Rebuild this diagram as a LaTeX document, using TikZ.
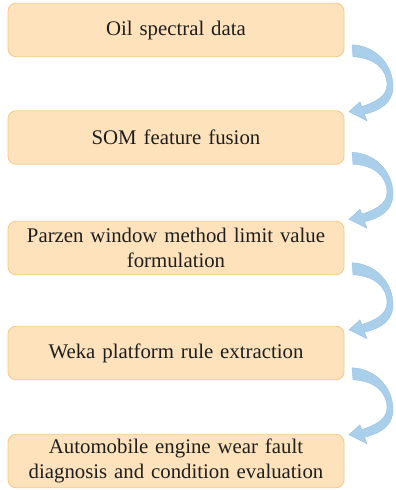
\documentclass[tikz,border=0pt]{standalone}
\usepackage{fontspec}
\setmainfont{Liberation Serif}
\usetikzlibrary{calc}
\definecolor{boxfill}{RGB}{253,226,187}
\definecolor{boxline}{RGB}{248,203,140}
\definecolor{arrowfill}{RGB}{170,207,235}
\definecolor{arrowline}{RGB}{150,192,228}
\definecolor{textcol}{RGB}{30,30,30}
\tikzset{
  stepbox/.style={draw=boxline, fill=boxfill, line width=0.9pt,
    rounded corners=8pt, minimum width=336pt, minimum height=53.5pt,
    align=center, text width=330pt, inner sep=0pt, outer sep=0pt,
    text=textcol, font=\fontsize{20.8}{25}\selectfont},
  % curved block arrow, local origin at the upper corner of its tail
  bendarrow/.pic={
    \filldraw[fill=arrowfill, draw=arrowline, line width=0.4pt]
      (0,0) .. controls (24,1) and (41,20) .. (41,42)
      .. controls (41,58) and (28,66) .. (12.5,69.4)
      -- (15,76) -- (-3,67) -- (8,57) -- (9.75,61.75)
      .. controls (22,58) and (35,52) .. (35,40)
      .. controls (35,24) and (22,13) .. (1,12) -- cycle;
  }
}
\begin{document}
\begin{tikzpicture}[x=1pt, y=-1pt]
  \useasboundingbox (0,0) rectangle (396,490);
  \node[stepbox] (b1) at (176,30)    {Oil spectral data};
  \node[stepbox] (b2) at (176,137.5) {SOM feature fusion};
  \node[stepbox] (b3) at (176,248)   {Parzen window method limit value\\formulation};
  \node[stepbox] (b4) at (176,353)   {Weka platform rule extraction};
  \node[stepbox] (b5) at (176,461)   {Automobile engine wear fault\\diagnosis and condition evaluation};
  \foreach \a/\b in {b1/b2, b2/b3, b3/b4, b4/b5}
    \pic at ($(\a.south east)+(8,-12)$) {bendarrow};
\end{tikzpicture}
\end{document}
